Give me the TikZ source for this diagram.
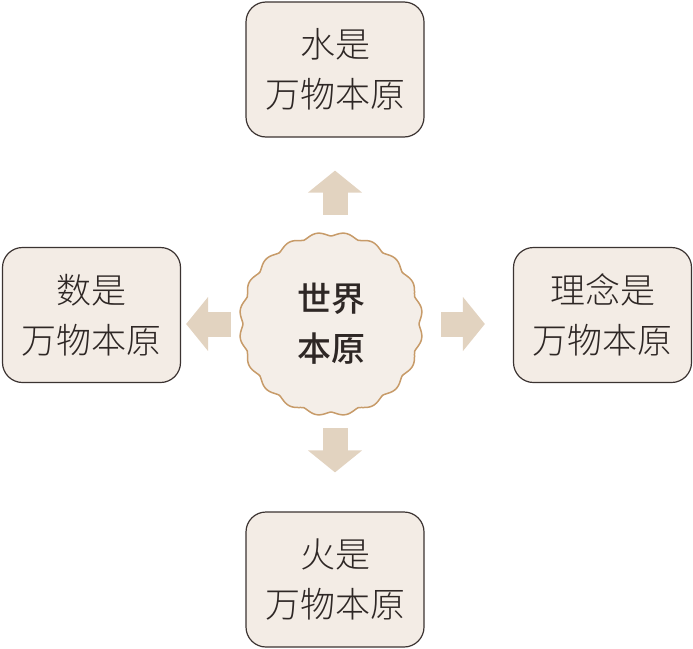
\documentclass[tikz,border=0pt]{standalone}
\usepackage{fontspec}
\usepackage{tikz}
\usetikzlibrary{positioning,arrows.meta,calc}
\newfontfamily\cjk{Noto Sans CJK SC Light}
\newfontfamily\cjkbold{Noto Sans CJK SC Medium}
\definecolor{boxfill}{HTML}{F3ECE5}
\definecolor{boxline}{HTML}{3B3331}
\definecolor{hubfill}{HTML}{F4EEE8}
\definecolor{hubline}{HTML}{C79B69}
\definecolor{arrowfill}{HTML}{E2D3C0}
\definecolor{ink}{HTML}{2E2725}
\tikzset{
    idea/.style = {
        draw=boxline,
        fill=boxfill,
        shape=rectangle,
        rounded corners=20pt,
        minimum width=178pt,
        minimum height=135pt,
        inner sep=0pt,
        align=center,
        text=ink,
        line width=1.2pt,
        font={\cjk\fontsize{35}{50}\selectfont}
    },
    hub/.style = {
        shape=circle,
        minimum size=184pt,
        inner sep=0pt,
        align=center,
        text=ink,
        font={\cjkbold\fontsize{34}{50}\selectfont}
    },
    wavy/.style = {
        draw=hubline,
        fill=hubfill,
        line width=1.5pt,
        line join=round
    },
    bigarrow/.style = {
        draw=arrowfill,
        line width=25pt,
        -{Triangle[width=53pt,length=22pt]}
    },
}
\begin{document}
\begin{tikzpicture}[x=1pt,y=-1pt]
    \useasboundingbox (0,0) rectangle (693,648);

    % centre
    \coordinate (mid) at (331,324);
    \path[wavy, shift={(mid)}] plot[domain=0:360, samples=361, smooth]
        (\x:{88pt+3.8pt*abs(sin(10*\x))^1.4}) -- cycle;
    \node[hub] (world) at (mid) {世界\\本原};

    % four answers
    \node[idea] (water) at (335,69.5)  {水是\\万物本原};
    \node[idea] (num)   at (91.5,315)  {数是\\万物本原};
    \node[idea] (form)  at (602.5,315) {理念是\\万物本原};
    \node[idea] (fire)  at (335,579.5) {火是\\万物本原};

    \path[bigarrow] ($(world.north -| water.south)+(0,-17)$) -- ($(water.south)+(0,33)$);
    \path[bigarrow] ($(world.south -| fire.north)+(0,12)$)   -- ($(fire.north)+(0,-39)$);
    \path[bigarrow] ($(world.west)+(-8,0)$) -- ($(num.east |- world.west)+(5,0)$);
    \path[bigarrow] ($(world.east)+(18,0)$) -- ($(form.west |- world.east)+(-28,0)$);
\end{tikzpicture}
\end{document}
